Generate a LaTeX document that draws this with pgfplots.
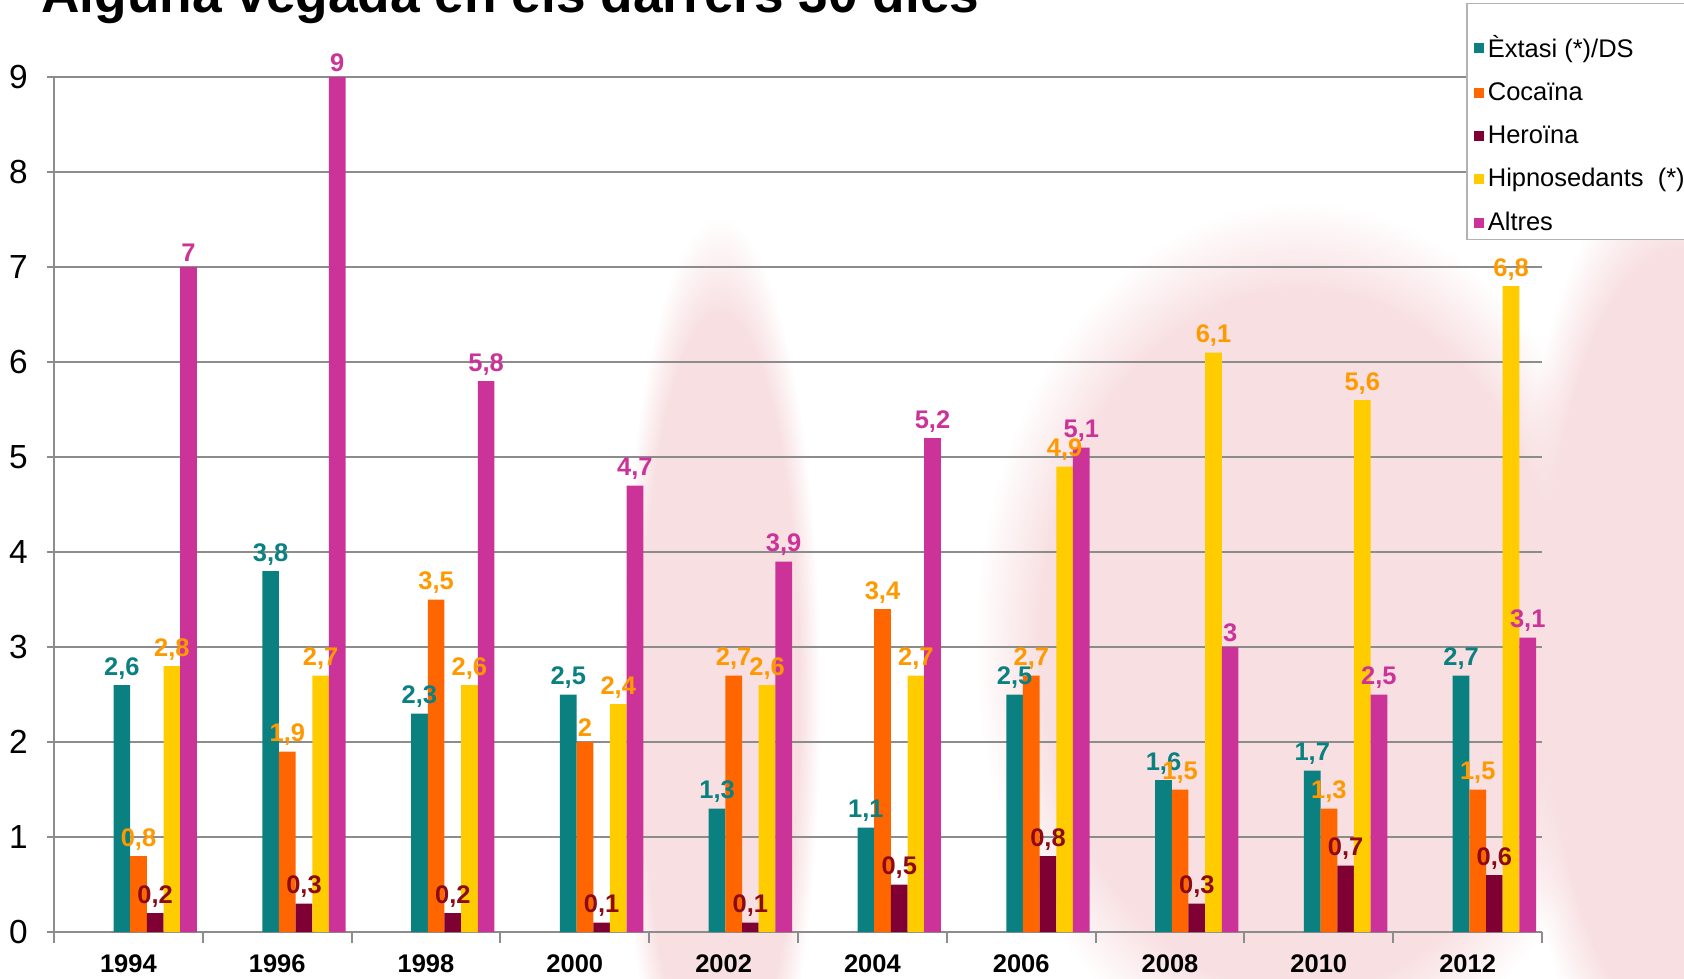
\documentclass[border=0pt]{standalone}
\usepackage{fontspec}
\setmainfont{Liberation Sans}
\usepackage{pgfplots}
\usepackage{pgfplotstable}
\pgfplotsset{compat=1.18}
\usetikzlibrary{fadings}

\definecolor{cExt}{HTML}{0A8080}
\definecolor{cCoc}{HTML}{FF6600}
\definecolor{cHer}{HTML}{7F0033}
\definecolor{cHip}{HTML}{FFCC00}
\definecolor{cAlt}{HTML}{CC3399}
\definecolor{lOra}{HTML}{FF9900}
\definecolor{lHer}{HTML}{8B0A14}
\definecolor{gridc}{HTML}{8C8C8C}
\definecolor{wmA}{HTML}{F8E0E2}

\pgfplotstableread{
year ext coc her hip alt
1994 2.6 0.8 0.2 2.8 7
1996 3.8 1.9 0.3 2.7 9
1998 2.3 3.5 0.2 2.6 5.8
2000 2.5 2.0 0.1 2.4 4.7
2002 1.3 2.7 0.1 2.6 3.9
2004 1.1 3.4 0.5 2.7 5.2
2006 2.5 2.7 0.8 4.9 5.1
2008 1.6 1.5 0.3 6.1 3
2010 1.7 1.3 0.7 5.6 2.5
2012 2.7 1.5 0.6 6.8 3.1
}\drugs

% one x unit = 2.976cm, bar width 0.112 units
\pgfplotsset{
  drugbar/.style 2 args={ybar, bar width=0.112, bar shift=#1, draw=none, fill=#2,
    nodes near coords, nodes near coords align=vertical},
  lbl/.style 2 args={nodes near coords style={text=#2, xshift=#1,
    font=\bfseries\fontsize{14.5}{16}\selectfont, inner sep=3pt}},
}

\begin{document}
\begin{tikzpicture}
% faint blurred watermark behind the chart
\fill[wmA, path fading=circle with fuzzy edge 20 percent] (12.4cm,-4cm) rectangle (16.4cm,15.2cm);
\fill[wmA, path fading=circle with fuzzy edge 20 percent] (19.5cm,-2cm) rectangle (32.5cm,15.5cm);
\fill[wmA, path fading=circle with fuzzy edge 20 percent] (30.2cm,-3cm) rectangle (37cm,16.5cm);
\begin{axis}[
  at={(1.08cm,0.92cm)}, anchor=south west,
  width=29.76cm, height=17.1cm, scale only axis,
  xmin=-0.5, xmax=9.5, ymin=0, ymax=9,
  clip=false,
  axis x line*=bottom, axis y line*=left,
  axis line style={-, draw=gridc, line width=1.4pt},
  xtick={0,...,9},
  xticklabels={1994,1996,1998,2000,2002,2004,2006,2008,2010,2012},
  major x tick style={draw=none},
  minor xtick={-0.5,0.5,...,9.5},
  minor x tick style={draw=gridc, line width=1.2pt},
  tick align=outside,
  minor tick length=0.22cm,
  major tick length=0.15cm,
  ytick={0,...,9},
  y tick style={draw=gridc, line width=1.2pt},
  ymajorgrids,
  grid style={draw=gridc, line width=1.4pt},
  xticklabel style={font=\bfseries\fontsize{14.5}{16}\selectfont, yshift=-0.18cm},
  yticklabel style={font=\fontsize{19}{21}\selectfont, xshift=-0.25cm},
  /pgf/number format/assume math mode=true,
  /pgf/number format/use comma,
  legend style={at={(0.949,1.0865)}, anchor=north west, draw=gray!60,
    line width=0.8pt, fill=white, font=\fontsize{14.5}{17}\selectfont,
    row sep=0.31cm, inner xsep=0.15cm, inner ysep=0.06cm,
    legend cell align=left},
  legend image code/.code={\fill[#1] (0cm,-0.1cm) rectangle (0.2cm,0.1cm);},
]
\addlegendimage{empty legend}
\addplot[drugbar={-0.044}{cExt}, lbl={-0.131cm}{cExt}]
  table[x expr=\coordindex, y=ext]{\drugs};
\addplot[drugbar={0.068}{cCoc}, lbl={0.202cm}{lOra}]
  table[x expr=\coordindex, y=coc]{\drugs};
\addplot[drugbar={0.18}{cHer}, lbl={0.536cm}{lHer}]
  table[x expr=\coordindex, y=her]{\drugs};
\addplot[drugbar={0.292}{cHip}, lbl={0.869cm}{lOra}]
  table[x expr=\coordindex, y=hip]{\drugs};
\addplot[drugbar={0.404}{cAlt}, lbl={1.202cm}{cAlt}]
  table[x expr=\coordindex, y=alt]{\drugs};
\legend{\raisebox{0pt}[0pt][-0.19cm]{}, Èxtasi (*)/DS, Cocaïna, Heroïna, Hipnosedants\ \ (*), Altres}
\end{axis}
\node[anchor=base west, inner sep=0pt, font=\bfseries\fontsize{30.3}{36}\selectfont]
  at (0.82cm,19.3cm) {Alguna vegada en els darrers 30 dies};
\pgfresetboundingbox
\path[use as bounding box] (0,0) rectangle (33.68cm,19.56cm);
\end{tikzpicture}
\end{document}
